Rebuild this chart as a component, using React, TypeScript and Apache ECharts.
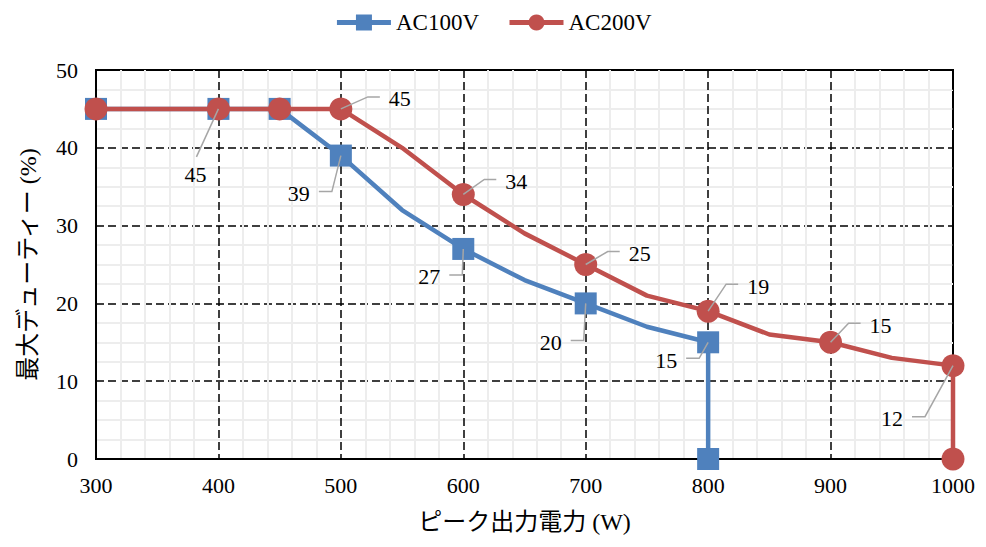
import React, { useEffect, useRef } from "react";
import * as echarts from "echarts";

// ---- Data ----
const ac100X = [300, 400, 450, 500, 550, 600, 650, 700, 750, 800, 800];
const ac100Y = [45, 45, 45, 39, 32, 27, 23, 20, 17, 15, 0];
const ac100Marked = [true, true, true, true, false, true, false, true, false, true, true];

const ac200X = [300, 400, 450, 500, 550, 600, 650, 700, 750, 800, 850, 900, 950, 1000, 1000];
const ac200Y = [45, 45, 45, 45, 40, 34, 29, 25, 21, 19, 16, 15, 13, 12, 0];
const ac200Marked = [true, true, true, true, false, true, false, true, false, true, false, true, false, true, true];

// indices of points that carry a data label
const ac100LabelIdx = [1, 3, 5, 7, 9];
const ac200LabelIdx = [3, 5, 7, 9, 11, 13];

const xTicks = [300, 1000, 100];
const yTicks = [0, 50, 10];

// ---- Layout of label offsets (pixels, label centre relative to point) ----
const ac100LabelLayout = [
  { dx: -23, dy: 66, side: "below" },
  { dx: -42, dy: 38, side: "left" },
  { dx: -34, dy: 28, side: "left" },
  { dx: -35, dy: 39, side: "left" },
  { dx: -42, dy: 18, side: "left" },
];
const ac200LabelLayout = [
  { dx: 59, dy: -10, side: "right" },
  { dx: 53, dy: -13, side: "right" },
  { dx: 54, dy: -11, side: "right" },
  { dx: 50, dy: -25, side: "right" },
  { dx: 50, dy: -17, side: "right" },
  { dx: -61, dy: 53, side: "left" },
];

const BLUE = "#4F81BD";
const RED = "#C0504D";
const SERIF = '"Liberation Serif", "Times New Roman", "Noto Sans CJK JP", serif';

function buildSeriesData(xs: number[], ys: number[], marked: boolean[]) {
  return xs.map((x, i) => ({
    value: [x, ys[i]],
    symbol: marked[i] ? undefined : "none",
  }));
}

function buildLabelData(xs: number[], ys: number[], idx: number[], layout: any[]) {
  return idx.map((i, k) => ({ value: [xs[i], ys[i]], layout: layout[k] }));
}

export default function App() {
  const ref = useRef<HTMLDivElement>(null);

  useEffect(() => {
    if (!ref.current) return;
    const chart = echarts.init(ref.current, undefined, { renderer: "svg" });

    const labelItems = [
      ...buildLabelData(ac100X, ac100Y, ac100LabelIdx, ac100LabelLayout),
      ...buildLabelData(ac200X, ac200Y, ac200LabelIdx, ac200LabelLayout),
    ];

    const renderLabel = (params: any, api: any) => {
      const item = labelItems[params.dataIndex];
      const p = api.coord([api.value(0), api.value(1)]);
      const { dx, dy, side } = item.layout;
      const lx = p[0] + dx;
      const ly = p[1] + dy;
      let pts: number[][];
      if (side === "below") {
        pts = [p, [lx + 1, ly - 18]];
      } else if (side === "left") {
        pts = [p, [lx + 33, ly - 2], [lx + 20, ly - 2]];
      } else {
        pts = [p, [lx - 32, ly - 2], [lx - 20, ly - 2]];
      }
      return {
        type: "group",
        children: [
          {
            type: "polyline",
            shape: { points: pts },
            style: { stroke: "#A6A6A6", lineWidth: 1.5, fill: "none" },
          },
          {
            type: "text",
            x: lx,
            y: ly,
            style: {
              text: String(api.value(1)),
              fill: "#000",
              font: `22px ${SERIF}`,
              align: "center",
              verticalAlign: "middle",
            },
          },
        ],
      };
    };

    chart.setOption({
      animation: false,
      textStyle: { fontFamily: SERIF },
      legend: {
        top: -2,
        left: "center",
        itemWidth: 54,
        itemHeight: 20,
        itemGap: 28,
        lineStyle: { width: 5 },
        textStyle: { fontSize: 23, color: "#000", fontFamily: SERIF },
        data: ["AC100V", "AC200V"],
      },
      grid: {
        left: 82,
        right: 20,
        top: 62,
        bottom: 73,
        show: true,
        borderColor: "#000",
        borderWidth: 2,
        backgroundColor: "transparent",
      },
      xAxis: {
        type: "value",
        min: xTicks[0],
        max: xTicks[1],
        interval: xTicks[2],
        name: "ピーク出力電力 (W)",
        nameLocation: "middle",
        nameGap: 51,
        nameTextStyle: { fontSize: 24, color: "#000", fontFamily: SERIF },
        axisLine: { show: true, lineStyle: { color: "#000", width: 2 } },
        axisTick: { show: false },
        axisLabel: {
          fontSize: 22,
          color: "#000",
          margin: 15,
          fontFamily: SERIF,
          formatter: (v: number) => String(v),
        },
        splitLine: { show: true, lineStyle: { color: "#000", width: 1.5, type: [8, 4] } },
        minorTick: { show: false, splitNumber: 5 },
        minorSplitLine: { show: true, lineStyle: { color: "#EDEDED", width: 2 } },
      },
      yAxis: {
        type: "value",
        min: yTicks[0],
        max: yTicks[1],
        interval: yTicks[2],
        name: "最大デューティー (%)",
        nameLocation: "middle",
        nameGap: 56,
        nameTextStyle: { fontSize: 24, color: "#000", fontFamily: SERIF },
        axisLine: { show: true, lineStyle: { color: "#000", width: 2 } },
        axisTick: { show: false },
        axisLabel: { fontSize: 22, color: "#000", margin: 18, fontFamily: SERIF },
        splitLine: { show: true, lineStyle: { color: "#000", width: 1.5, type: [8, 4] } },
        minorTick: { show: false, splitNumber: 4 },
        minorSplitLine: { show: true, lineStyle: { color: "#EDEDED", width: 2 } },
      },
      series: [
        {
          name: "AC100V",
          type: "line",
          data: buildSeriesData(ac100X, ac100Y, ac100Marked),
          symbol: "rect",
          symbolSize: 22,
          showAllSymbol: true,
          lineStyle: { color: BLUE, width: 4.5 },
          itemStyle: { color: BLUE },
          z: 2,
        },
        {
          name: "AC200V",
          type: "line",
          data: buildSeriesData(ac200X, ac200Y, ac200Marked),
          symbol: "circle",
          symbolSize: 23,
          showAllSymbol: true,
          lineStyle: { color: RED, width: 4.5 },
          itemStyle: { color: RED },
          z: 3,
        },
        {
          name: "labels",
          type: "custom",
          coordinateSystem: "cartesian2d",
          data: labelItems.map((d) => d.value),
          renderItem: renderLabel,
          clip: false,
          silent: true,
          z: 10,
        },
      ],
    });

    return () => chart.dispose();
  }, []);

  return <div ref={ref} style={{ width: 970, height: 531 }} />;
}
